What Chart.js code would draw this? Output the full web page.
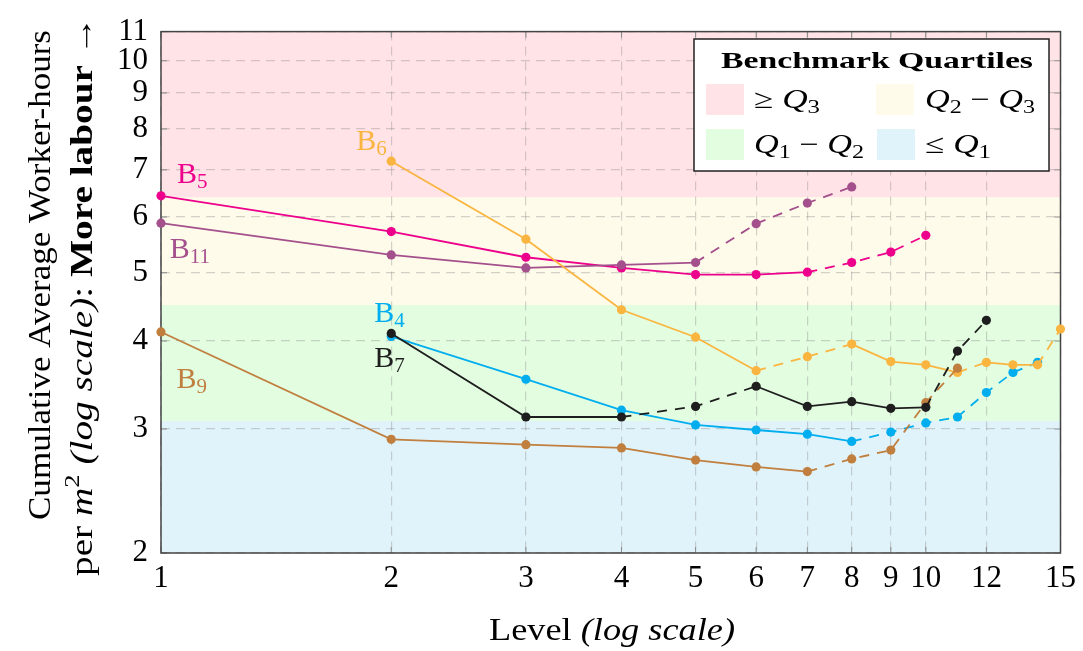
<!DOCTYPE html>
<html>
<head>
<meta charset="utf-8">
<script src="https://cdn.jsdelivr.net/npm/chart.js@4.4.1/dist/chart.umd.min.js"></script>
<style>
  html, body { margin: 0; background: #fff; }
  #wrap { width: 1083px; height: 651px; }
</style>
</head>
<body>
<div id="wrap"><canvas id="chart" width="1083" height="651"></canvas></div>
<script>
/* ---------- data ---------- */
const levelTicks = [1, 2, 3, 4, 5, 6, 7, 8, 9, 10, 12, 15];
const valueTicks = [2, 3, 4, 5, 6, 7, 8, 9, 10, 11];

// benchmark quartile band edges (worker-hours per m2), bottom to top
const quartileEdges = [2, 3.08, 4.5, 6.4, 11];

const b5Levels  = [1, 2, 3, 4, 5, 6, 7, 8, 9, 10];
const b5Values  = [6.43, 5.72, 5.26, 5.08, 4.97, 4.97, 5.01, 5.17, 5.35, 5.65];

const b11Levels = [1, 2, 3, 4, 5, 6, 7, 8];
const b11Values = [5.88, 5.30, 5.08, 5.13, 5.17, 5.87, 6.28, 6.62];

const b6Levels  = [2, 3, 4, 5, 6, 7, 8, 9, 10, 11, 12, 13, 14, 15];
const b6Values  = [7.20, 5.58, 4.43, 4.05, 3.63, 3.80, 3.96, 3.74, 3.70, 3.61, 3.73, 3.70, 3.70, 4.16];

const b4Levels  = [2, 3, 4, 5, 6, 7, 8, 9, 10, 11, 12, 13, 14];
const b4Values  = [4.06, 3.53, 3.19, 3.04, 2.99, 2.95, 2.88, 2.97, 3.06, 3.12, 3.38, 3.61, 3.73];

const b7Levels  = [2, 3, 4, 5, 6, 7, 8, 9, 10, 11, 12];
const b7Values  = [4.10, 3.12, 3.12, 3.23, 3.45, 3.23, 3.28, 3.21, 3.22, 3.87, 4.28];

const b9Levels  = [1, 2, 3, 4, 5, 6, 7, 8, 9, 10, 11];
const b9Values  = [4.12, 2.90, 2.85, 2.82, 2.71, 2.65, 2.61, 2.72, 2.80, 3.27, 3.66];

/* ---------- look ---------- */
const SERIF = '"Liberation Serif", "DejaVu Serif", serif';
const bandColors = ['#e1f3fa', '#e3fde0', '#fffbea', '#ffe3e6'];

// series: label sub, colour, which segments (by start index) are dashed, where the label sits (data space)
const series = [
  { name: '7',  levels: b7Levels,  values: b7Values,  color: '#1e1e1e', dashed: [2, 3, 8, 9],          at: [1.90, 3.68] },
  { name: '9',  levels: b9Levels,  values: b9Values,  color: '#c07f3e', dashed: [6, 7, 8, 9],          at: [1.048, 3.43] },
  { name: '6',  levels: b6Levels,  values: b6Values,  color: '#fab540', dashed: [4, 5, 9, 12],         at: [1.80, 7.46] },
  { name: '4',  levels: b4Levels,  values: b4Values,  color: '#00aeef', dashed: [6, 7, 8, 9, 10, 11],  at: [1.90, 4.26] },
  { name: '11', levels: b11Levels, values: b11Values, color: '#a4508d', dashed: [4, 5, 6],             at: [1.027, 5.25] },
  { name: '5',  levels: b5Levels,  values: b5Values,  color: '#ec008c', dashed: [6, 7, 8],             at: [1.049, 6.71] },
];

/* ---------- rich text helper (sub/superscripts, mixed fonts, optional stretch to width) ---------- */
function drawRich(ctx, runs, x, y, align, width) {
  let w = 0;
  runs.forEach(r => { ctx.font = r.f; w += ctx.measureText(r.t).width; });
  const k = width ? width / w : 1;
  ctx.save();
  ctx.translate(x, y);
  ctx.scale(k, 1);
  let cx = align === 'center' ? -w / 2 : 0;
  runs.forEach(r => {
    ctx.font = r.f;
    ctx.fillText(r.t, cx, r.dy || 0);
    cx += ctx.measureText(r.t).width;
  });
  ctx.restore();
}

const f = (size, style = '') => `${style} ${size}px ${SERIF}`;

/* ---------- plugin: bands, frame, titles, labels, legend ---------- */
const decor = {
  id: 'decor',
  beforeDraw(chart) {
    const { ctx, chartArea: a, scales: { y } } = chart;
    ctx.save();
    for (let i = 0; i < bandColors.length; i++) {
      const top = y.getPixelForValue(quartileEdges[i + 1]);
      const bot = y.getPixelForValue(quartileEdges[i]);
      ctx.fillStyle = bandColors[i];
      ctx.fillRect(a.left, top, a.right - a.left, bot - top);
    }
    ctx.restore();
  },
  beforeDatasetsDraw(chart) {
    const { ctx, chartArea: a, scales: { x, y } } = chart;
    ctx.save();
    // small inward ticks
    ctx.strokeStyle = '#8a8a8a';
    ctx.lineWidth = 1;
    ctx.beginPath();
    valueTicks.forEach(v => {
      const py = y.getPixelForValue(v);
      ctx.moveTo(a.left, py); ctx.lineTo(a.left + 6, py);
      ctx.moveTo(a.right, py); ctx.lineTo(a.right - 6, py);
    });
    levelTicks.forEach(v => {
      const px = x.getPixelForValue(v);
      ctx.moveTo(px, a.bottom); ctx.lineTo(px, a.bottom - 6);
      ctx.moveTo(px, a.top); ctx.lineTo(px, a.top + 6);
    });
    ctx.stroke();
    // frame
    ctx.strokeStyle = '#444';
    ctx.lineWidth = 1.5;
    ctx.strokeRect(a.left, a.top, a.right - a.left, a.bottom - a.top);
    ctx.restore();
  },
  afterDraw(chart) {
    const { ctx, chartArea: a, scales: { x, y } } = chart;
    ctx.save();
    ctx.fillStyle = '#000';
    ctx.textBaseline = 'alphabetic';

    // y-axis title, two rotated lines
    ctx.save();
    ctx.translate(50, 275);
    ctx.rotate(-Math.PI / 2);
    drawRich(ctx, [{ t: 'Cumulative Average Worker-hours', f: f(31) }], 0, 0, 'center', 490);
    ctx.restore();
    ctx.save();
    ctx.translate(92, 296);
    ctx.rotate(-Math.PI / 2);
    drawRich(ctx, [
      { t: 'per ', f: f(31) },
      { t: 'm', f: f(31, 'italic') },
      { t: '2', f: f(21), dy: -13 },
      { t: ' (log scale)', f: f(31, 'italic') },
      { t: ': ', f: f(31) },
      { t: 'More labour', f: f(31, 'bold') },
      { t: ' \u2192', f: f(31) },
    ], 0, 0, 'center', 560);
    ctx.restore();

    // x-axis title
    drawRich(ctx, [
      { t: 'Level ', f: f(31) },
      { t: '(log scale)', f: f(31, 'italic') },
    ], 612, 640, 'center', 246);

    // series labels
    series.forEach(s => {
      ctx.fillStyle = s.color;
      drawRich(ctx, [
        { t: 'B', f: f(30) },
        { t: s.name, f: f(21), dy: 5 },
      ], x.getPixelForValue(s.at[0]), y.getPixelForValue(s.at[1]), 'left');
    });

    // legend box
    const L = { left: 694, top: 39, right: 1049, bottom: 171 };
    ctx.fillStyle = '#fff';
    ctx.fillRect(L.left, L.top, L.right - L.left, L.bottom - L.top);
    ctx.strokeStyle = '#222';
    ctx.lineWidth = 1.5;
    ctx.strokeRect(L.left, L.top, L.right - L.left, L.bottom - L.top);
    ctx.fillStyle = '#000';
    drawRich(ctx, [{ t: 'Benchmark Quartiles', f: f(24, 'bold') }], 877, 68, 'center', 312);

    const entries = [
      { c: bandColors[3], sx: 706, tx: 754, cy: 99,  w: 66,  runs: [{ t: '\u2265 ', f: f(27) }, { t: 'Q', f: f(27, 'italic') }, { t: '3', f: f(19), dy: 5 }] },
      { c: bandColors[2], sx: 876, tx: 925, cy: 99,  w: 110, runs: [{ t: 'Q', f: f(27, 'italic') }, { t: '2', f: f(19), dy: 5 }, { t: ' \u2212 ', f: f(27) }, { t: 'Q', f: f(27, 'italic') }, { t: '3', f: f(19), dy: 5 }] },
      { c: bandColors[1], sx: 706, tx: 754, cy: 144, w: 110, runs: [{ t: 'Q', f: f(27, 'italic') }, { t: '1', f: f(19), dy: 5 }, { t: ' \u2212 ', f: f(27) }, { t: 'Q', f: f(27, 'italic') }, { t: '2', f: f(19), dy: 5 }] },
      { c: bandColors[0], sx: 877, tx: 925, cy: 144, w: 66,  runs: [{ t: '\u2264 ', f: f(27) }, { t: 'Q', f: f(27, 'italic') }, { t: '1', f: f(19), dy: 5 }] },
    ];
    entries.forEach(e => {
      ctx.fillStyle = e.c;
      ctx.fillRect(e.sx, e.cy - 15, 38, 31);
      ctx.fillStyle = '#000';
      drawRich(ctx, e.runs, e.tx, e.cy + 9, 'left', e.w);
    });
    ctx.restore();
  },
};

/* ---------- chart ---------- */
const datasets = series.map(s => ({
  label: 'B' + s.name,
  data: s.levels.map((lv, i) => ({ x: lv, y: s.values[i] })),
  borderColor: s.color,
  backgroundColor: s.color,
  borderWidth: 1.8,
  pointRadius: 4.6,
  pointBorderWidth: 0,
  pointBackgroundColor: s.color,
  tension: 0,
  clip: false,
  segment: {
    borderDash: ctx => (s.dashed.includes(ctx.p0DataIndex) ? [10, 8] : undefined),
  },
}));

const tickFont = { family: SERIF, size: 31 };

new Chart(document.getElementById('chart'), {
  type: 'line',
  data: { datasets },
  options: {
    responsive: false,
    animation: false,
    events: [],
    layout: { padding: { top: 28, right: 22, left: 0, bottom: 0 } },
    plugins: { legend: { display: false }, tooltip: { enabled: false } },
    scales: {
      x: {
        type: 'logarithmic',
        min: 1,
        max: 15,
        afterBuildTicks: sc => { sc.ticks = levelTicks.map(v => ({ value: v })); },
        afterFit: sc => { sc.height = 98; },
        ticks: {
          callback: v => String(v),
          autoSkip: false,
          maxRotation: 0,
          color: '#000',
          font: tickFont,
          padding: 7,
        },
        grid: { color: 'rgba(140,140,140,0.38)', lineWidth: 1.2, drawTicks: false },
        border: { display: false, dash: [9, 6] },
      },
      y: {
        type: 'logarithmic',
        min: 2,
        max: 11,
        afterBuildTicks: sc => { sc.ticks = valueTicks.map(v => ({ value: v })); },
        afterFit: sc => { sc.width = 161; },
        ticks: {
          callback: v => String(v),
          autoSkip: false,
          color: '#000',
          font: tickFont,
          padding: 13,
        },
        grid: { color: 'rgba(140,140,140,0.38)', lineWidth: 1.2, drawTicks: false },
        border: { display: false, dash: [9, 6] },
      },
    },
  },
  plugins: [decor],
});
</script>
</body>
</html>
